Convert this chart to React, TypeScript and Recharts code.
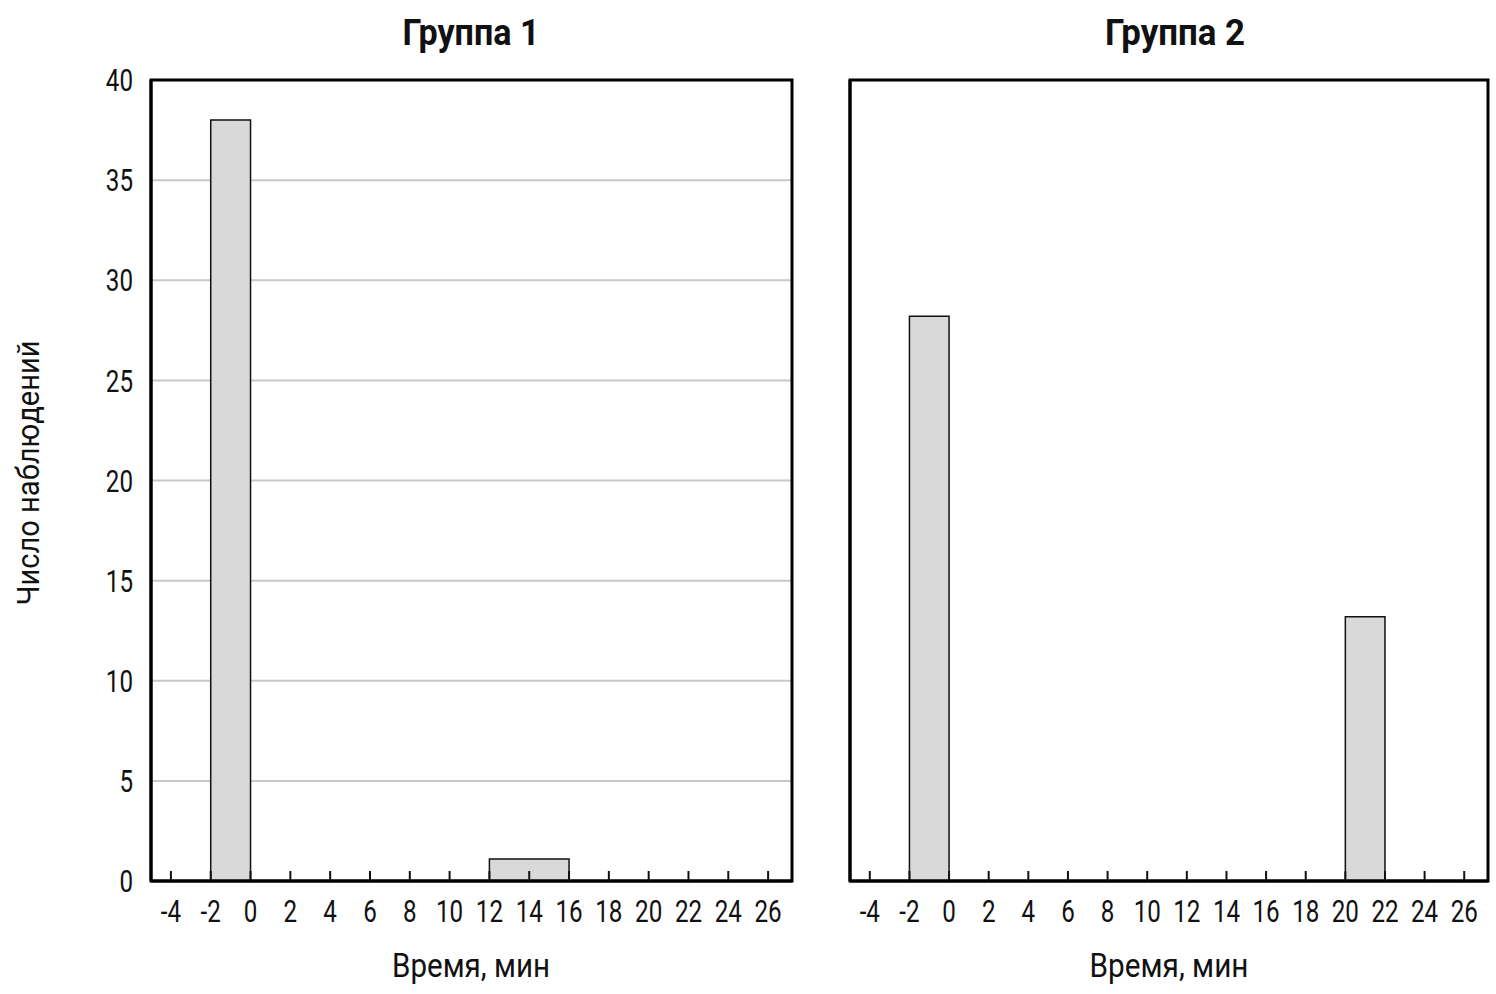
import { ComposedChart, Area, XAxis, YAxis, CartesianGrid, ReferenceArea } from 'recharts'

const FONT = 'Roboto, "Noto Sans", "DejaVu Sans", sans-serif'
const INK = '#111'

const groupTitles = ['Группа 1', 'Группа 2']
const xLabel = 'Время, мин'
const yLabel = 'Число наблюдений'

const xTicks = [-4, -2, 0, 2, 4, 6, 8, 10, 12, 14, 16, 18, 20, 22, 24, 26]
const yTicks = [0, 5, 10, 15, 20, 25, 30, 35, 40]

// интервалы гистограмм: начало, конец, число наблюдений
const binStart1 = [-2, 12]
const binEnd1 = [0, 16]
const counts1 = [38, 1.1]

const binStart2 = [-2, 20]
const binEnd2 = [0, 22]
const counts2 = [28.2, 13.2]

const X_DOMAIN: [number, number] = [-5, 27.2]
const Y_DOMAIN: [number, number] = [0, 40]

function toSteps(starts: number[], ends: number[], counts: number[]) {
  const out: { x: number; y: number }[] = [{ x: starts[0], y: 0 }]
  starts.forEach((s, i) => {
    out.push({ x: s, y: counts[i] })
    out.push({ x: ends[i], y: 0 })
  })
  return out
}

// узкий шрифт имитируем сжатием по горизонтали
function Narrow({ x, y, anchor, dy, children }: any) {
  return (
    <text
      transform={`translate(${x},${y}) scale(0.78,1)`}
      dy={dy}
      textAnchor={anchor}
      fontSize={31}
      fontFamily={FONT}
      fill={INK}
    >
      {children}
    </text>
  )
}

function XTick({ x, y, payload }: any) {
  return (
    <g>
      <line x1={x} y1={y} x2={x} y2={y - 10} stroke={INK} strokeWidth={2} />
      <Narrow x={x} y={y + 41} anchor="middle">
        {payload.value}
      </Narrow>
    </g>
  )
}

function YTick({ x, y, payload }: any) {
  return (
    <Narrow x={x} y={y} dy="0.36em" anchor="end">
      {payload.value}
    </Narrow>
  )
}

function Panel({
  data,
  width,
  yWidth,
  showY,
}: {
  data: { x: number; y: number }[]
  width: number
  yWidth: number
  showY: boolean
}) {
  return (
    <ComposedChart
      width={width}
      height={994}
      data={data}
      margin={{ top: 80, right: 8, left: 0, bottom: 0 }}
    >
      <CartesianGrid vertical={false} stroke="#c8c8c8" strokeWidth={2} />
      <Area
        type="stepAfter"
        dataKey="y"
        stroke={INK}
        strokeWidth={1.5}
        fill="#d9d9d9"
        fillOpacity={1}
        dot={false}
        activeDot={false}
        isAnimationActive={false}
      />
      <ReferenceArea
        x1={X_DOMAIN[0]}
        x2={X_DOMAIN[1]}
        y1={Y_DOMAIN[0]}
        y2={Y_DOMAIN[1]}
        fill="none"
        stroke="#000"
        strokeWidth={3}
        ifOverflow="visible"
      />
      <XAxis
        dataKey="x"
        type="number"
        domain={X_DOMAIN}
        ticks={xTicks}
        interval={0}
        height={113}
        tickSize={0}
        tickMargin={0}
        tickLine={false}
        axisLine={{ stroke: '#000', strokeWidth: 3 }}
        tick={<XTick />}
        allowDataOverflow
      />
      <YAxis
        type="number"
        domain={Y_DOMAIN}
        ticks={yTicks}
        interval={0}
        width={yWidth}
        tickSize={0}
        tickMargin={18}
        tickLine={false}
        axisLine={{ stroke: '#000', strokeWidth: 3 }}
        tick={showY ? <YTick /> : false}
      />
    </ComposedChart>
  )
}

export default function App() {
  const data1 = toSteps(binStart1, binEnd1, counts1)
  const data2 = toSteps(binStart2, binEnd2, counts2)
  return (
    <div
      style={{
        position: 'absolute',
        left: 0,
        top: 0,
        width: 1496,
        height: 994,
        overflow: 'hidden',
        background: '#fff',
      }}
    >
      <div style={{ position: 'absolute', left: 0, top: 0 }}>
        <Panel data={data1} width={800} yWidth={151} showY />
      </div>
      <div style={{ position: 'absolute', left: 800, top: 0 }}>
        <Panel data={data2} width={696} yWidth={50} showY={false} />
      </div>

      <svg
        width={1496}
        height={994}
        style={{ position: 'absolute', left: 0, top: 0, pointerEvents: 'none' }}
        fontFamily={FONT}
        fill={INK}
      >
        <text x={471} y={45} textAnchor="middle" fontSize={37} fontWeight={700}
          textLength={137} lengthAdjust="spacingAndGlyphs">
          {groupTitles[0]}
        </text>
        <text x={1175} y={45} textAnchor="middle" fontSize={37} fontWeight={700}
          textLength={140} lengthAdjust="spacingAndGlyphs">
          {groupTitles[1]}
        </text>
        <text x={471} y={977} textAnchor="middle" fontSize={33}
          textLength={158} lengthAdjust="spacingAndGlyphs">
          {xLabel}
        </text>
        <text x={1169} y={977} textAnchor="middle" fontSize={33}
          textLength={159} lengthAdjust="spacingAndGlyphs">
          {xLabel}
        </text>
        <text transform="translate(39,473) rotate(-90)" textAnchor="middle" fontSize={32}
          textLength={265} lengthAdjust="spacingAndGlyphs">
          {yLabel}
        </text>
      </svg>
    </div>
  )
}
